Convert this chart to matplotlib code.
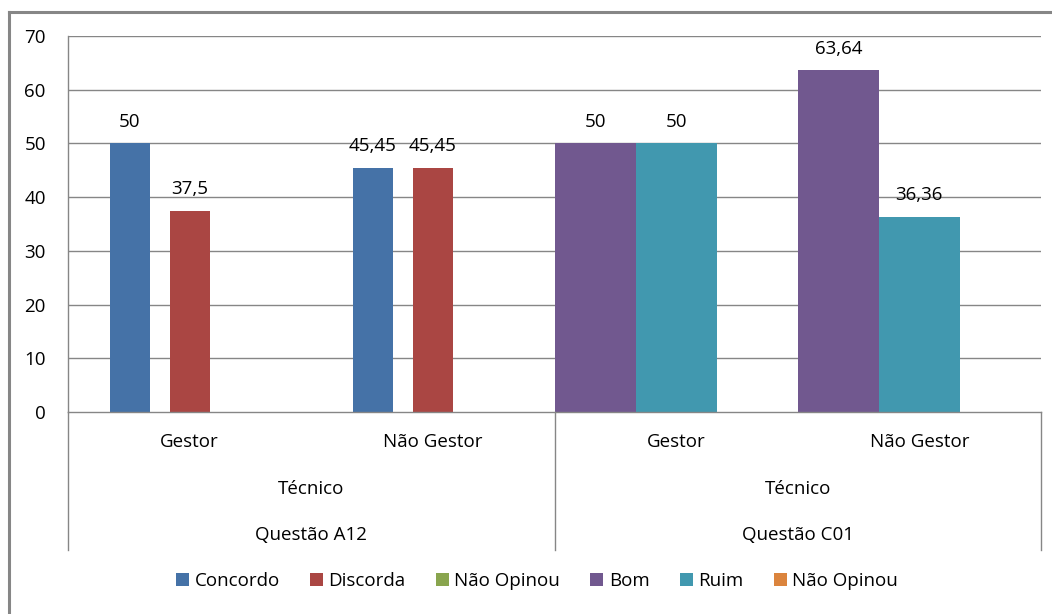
import matplotlib

matplotlib.use("Agg")
from matplotlib import pyplot as plt
from matplotlib.lines import Line2D
from matplotlib.patches import Patch

plt.rcParams["font.family"] = ["Open Sans", "DejaVu Sans"]

# categories (inner level, middle level, outer level)
roles = ["Gestor", "Não Gestor", "Gestor", "Não Gestor"]
middle_labels = ["Técnico", "Técnico"]
question_labels = ["Questão A12", "Questão C01"]

# question A12 series (first two categories)
concordo = [50, 45.45]
discorda = [37.5, 45.45]
nao_opinou_a = [None, None]
# question C01 series (last two categories)
bom = [50, 63.64]
ruim = [50, 36.36]
nao_opinou_c = [None, None]

series_a = [("Concordo", concordo, "#4572A7"),
            ("Discorda", discorda, "#AA4643"),
            ("Não Opinou", nao_opinou_a, "#89A54E")]
series_c = [("Bom", bom, "#71588F"),
            ("Ruim", ruim, "#4198AF"),
            ("Não Opinou", nao_opinou_c, "#DB843D")]

W, H = 1052, 614
fs = 13.5
fig = plt.figure(figsize=(W / 100, H / 100), dpi=100)
fig.patch.set_facecolor("white")

x0, x1, y_top, y_bot = 68, 1041, 36, 412
ax = fig.add_axes([x0 / W, 1 - y_bot / H, (x1 - x0) / W, (y_bot - y_top) / H])
ax.set_xlim(0, 4)
ax.set_ylim(0, 70)
ax.set_yticks(range(0, 71, 10))
ax.set_xticks([])
for s in ["top", "right", "bottom"]:
    ax.spines[s].set_visible(False)
ax.spines["left"].set_color("#868686")
ax.spines["left"].set_linewidth(1.0)
ax.tick_params(axis="y", length=0, pad=16, labelsize=fs, colors="#000000")
for v in range(10, 71, 10):
    ax.axhline(v, color="#868686", linewidth=1.0, zorder=1)

gray = "#868686"


def draw_group(series, cats, width, step):
    for i, (name, vals, color) in enumerate(series):
        offset = (i - 1) * step
        for c, v in zip(cats, vals):
            if v is None:
                continue
            xc = c + 0.5 + offset
            ax.bar(xc, v, width=width, color=color, zorder=2, linewidth=0)
            txt = f"{v:g}".replace(".", ",")
            ax.annotate(txt, (xc, v), xytext=(0, 9), textcoords="offset points",
                        ha="center", va="bottom", fontsize=fs, color="#000000")


draw_group(series_a, [0, 1], 40 / 243, 60 / 243)
draw_group(series_c, [2, 3], 81 / 243, 81 / 243)

# multi-level category axis
ax_h = y_bot - y_top
trans = ax.get_xaxis_transform()


def yfrac(ypix):
    return (y_bot - ypix) / ax_h


ax.plot([0, 4], [0, 0], transform=trans, color=gray, linewidth=1.0, clip_on=False, zorder=3)
for xv in [0, 2, 4]:
    ax.plot([xv, xv], [0, yfrac(550)], transform=trans, color=gray, linewidth=1.0, clip_on=False)
for i, r in enumerate(roles):
    ax.text(i + 0.5, yfrac(442), r, transform=trans, ha="center", va="center", fontsize=fs)
for i, m in enumerate(middle_labels):
    ax.text(2 * i + 1, yfrac(489), m, transform=trans, ha="center", va="center", fontsize=fs)
for i, q in enumerate(question_labels):
    ax.text(2 * i + 1, yfrac(535), q, transform=trans, ha="center", va="center", fontsize=fs)

# outer chart frame (cropped at right and bottom)
fig.add_artist(Line2D([9 / W, 9 / W], [0, 1 - 12 / H], color=gray, linewidth=2.2))
fig.add_artist(Line2D([9 / W, 1], [1 - 12 / H, 1 - 12 / H], color=gray, linewidth=2.2))

handles = [Patch(facecolor=c, edgecolor="none") for _, _, c in series_a + series_c]
names = [n for n, _, _ in series_a + series_c]
fig.legend(handles, names, loc="center", bbox_to_anchor=(537 / W, 1 - 581 / H), ncol=6,
           frameon=False, fontsize=fs, handlelength=0.7, handleheight=0.7,
           handletextpad=0.3, columnspacing=1.6)

fig.savefig("out.png", dpi=100)
